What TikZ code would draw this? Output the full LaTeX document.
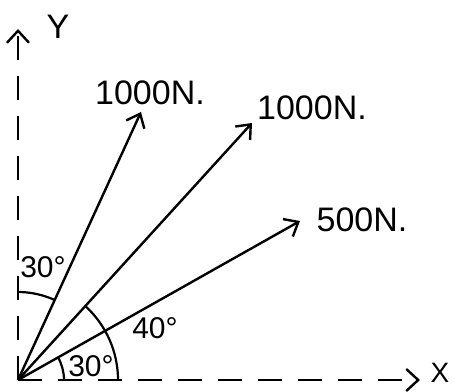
\documentclass[tikz,border=0pt]{standalone}
\usepackage{fontspec}
\setmainfont{Liberation Sans}
\usetikzlibrary{arrows.meta}
\begin{document}
\begin{tikzpicture}[x=1pt,y=1pt,
  vec/.style={line width=2.4pt, -{Straight Barb[length=12pt,width=20pt,line width=2.4pt]}},
  axis/.style={line width=2.4pt, dash pattern=on 24pt off 16pt, -{Straight Barb[length=12pt,width=22pt,line width=2.4pt]}},
  lbl/.style={font=\fontsize{34}{34}\selectfont, inner sep=0pt},
  ang/.style={font=\fontsize{30}{30}\selectfont, inner sep=0pt},
  arcline/.style={line width=2.2pt}]
\useasboundingbox (0,0) rectangle (457,391);
\coordinate (O) at (18,11);
\coordinate (Ytip) at (18,362);
\coordinate (Xtip) at (420,11);
\coordinate (A) at (141,279);
\coordinate (B) at (252,268);
\coordinate (C) at (300,170);
\draw[axis] (O) -- (Ytip);
\draw[axis] (O) -- (Xtip);
\draw[vec] (O) -- (A);
\draw[vec] (O) -- (B);
\draw[vec] (O) -- (C);
\node[lbl] (ly) at (58,364) {Y};
\node[lbl, font=\fontsize{28}{28}\selectfont] (lx) at (440,18) {X};
\node[lbl] (la) at (150,298) {1000N.};
\node[lbl] (lb) at (312,283) {1000N.};
\node[lbl] (lc) at (362,171) {500N.};
% angle arcs
\draw[arcline] ([shift={(65.3:88)}]O) arc[start angle=65.3, end angle=90, radius=88];
\draw[arcline] ([shift={(0:100)}]O) arc[start angle=0, end angle=47.7, radius=100];
\draw[arcline] ([shift={(0:46)}]O) arc[start angle=0, end angle=29.4, radius=46];
\node[ang] (t1) at (43,124) {30°};
\node[ang] (t2) at (155,63) {40°};
\node[ang] (t3) at (91,25) {30°};
\end{tikzpicture}
\end{document}
